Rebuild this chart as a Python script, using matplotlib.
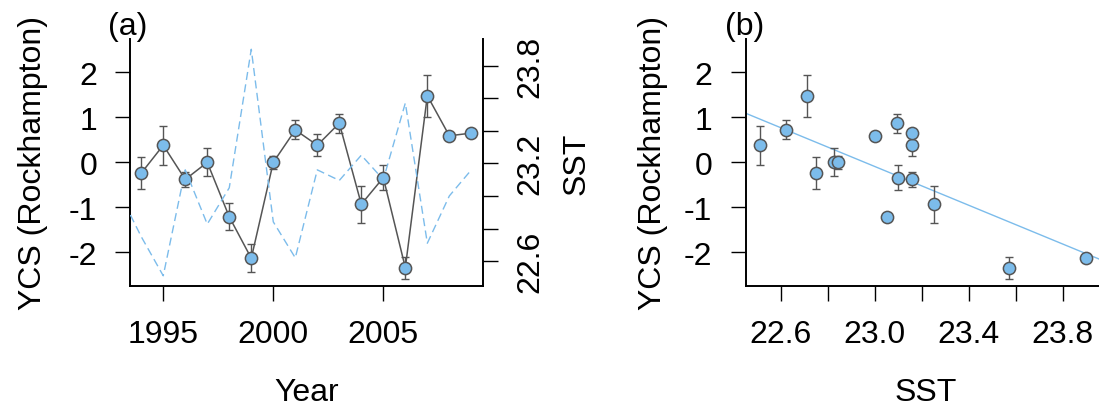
import numpy as np
import matplotlib
matplotlib.use('Agg')
import matplotlib.pyplot as plt

plt.rcParams['font.family'] = ['Liberation Sans', 'DejaVu Sans']
plt.rcParams['font.size'] = 23

# recruitment (YCS) with standard errors, one value per year
years = [1994, 1995, 1996, 1997, 1998, 1999, 2000, 2001,
         2002, 2003, 2004, 2005, 2006, 2007, 2008, 2009]
ycs = [-0.24, 0.38, -0.38, 0.00, -1.21, -2.13, 0.00, 0.72,
       0.38, 0.87, -0.93, -0.34, -2.34, 1.48, 0.59, 0.65]
ycs_se = [0.35, 0.43, 0.17, 0.31, 0.30, 0.31, 0.15, 0.21,
          0.24, 0.21, 0.41, 0.28, 0.24, 0.47, 0.07, 0.02]
# panel (b) shows no bars for 1998 and 1999
ycs_se_b = [0.35, 0.43, 0.17, 0.31, 0.0, 0.0, 0.15, 0.21,
            0.24, 0.21, 0.41, 0.28, 0.24, 0.47, 0.07, 0.02]

# sea surface temperature series
sst_years = [1993] + years
sst = [23.02, 22.75, 22.51, 23.16, 22.827, 23.05, 23.90, 22.841, 22.62,
       23.16, 23.095, 23.25, 23.10, 23.57, 22.71, 23.00, 23.16]

# fitted line YCS = a + b*SST
fit_a = 49.38
fit_b = -2.151

blue = '#7CBCEB'
grey = '#555555'

fig = plt.figure(figsize=(10.99, 4.06), dpi=100)

def style(ax):
    ax.tick_params(direction='out', length=11, width=1.0, pad=13)
    for s in ax.spines.values():
        s.set_linewidth(1.4)
    ax.spines['top'].set_visible(False)

# ---- panel (a): time series ----
ax1 = fig.add_axes([0.1187, 0.2938, 0.3208, 0.6077])
ax1.errorbar(years, ycs, yerr=ycs_se, fmt='none', ecolor=grey,
             elinewidth=1.0, capsize=3, capthick=1.0, zorder=2)
ax1.plot(years, ycs, '-o', color=grey, lw=1.1, ms=8.8,
         mfc=blue, mec=grey, mew=1.1, zorder=3)
ax1.set_xlim(1993.51, 2009.53)
ax1.set_ylim(-2.74, 2.74)
ax1.set_xticks([1995, 2000, 2005])
ax1.set_yticks([-2, -1, 0, 1, 2])
ax1.set_yticklabels(['-2', '-1', '0', '1', '2'])
style(ax1)
ax1.spines['right'].set_visible(False)
ax1.set_xlabel('Year', va='baseline')
ax1.xaxis.set_label_coords(0.5, -0.462)
ax1.set_ylabel('YCS (Rockhampton)', va='center')
ax1.yaxis.set_label_coords(-0.2766, 0.5)

ax2 = ax1.twinx()
ax2.plot(sst_years, sst, color=blue, lw=1.0, dashes=(5.8, 3.2))
ax2.set_ylim(22.449, 23.963)
sst_ticks = [22.6, 22.8, 23.0, 23.2, 23.4, 23.6, 23.8]
ax2.set_yticks(sst_ticks)
ax2.set_yticklabels(['22.6', '', '', '23.2', '', '', '23.8'],
                    rotation=90, va='center')
style(ax2)
ax2.spines['left'].set_visible(False)
ax2.spines['bottom'].set_visible(False)
ax2.tick_params(axis='y', pad=12.5)
ax2.set_ylabel('SST', va='center')
ax2.yaxis.set_label_coords(1.2658, 0.5)

fig.text(128 / 1099, 1 - 27 / 406, '(a)', ha='center', va='center')

# ---- panel (b): YCS against SST ----
ax3 = fig.add_axes([0.6785, 0.2938, 0.3284, 0.6077])
sst_b = sst[1:]
ax3.errorbar(sst_b, ycs, yerr=ycs_se_b, fmt='none', ecolor=grey,
             elinewidth=1.0, capsize=3, capthick=1.0, zorder=2)
ax3.plot(sst_b, ycs, 'o', ms=8.8, mfc=blue, mec=grey, mew=1.1, zorder=3)
ax3.set_xlim(22.4496, 23.987)
ax3.set_ylim(-2.74, 2.74)
xl = np.array(ax3.get_xlim())
ax3.plot(xl, fit_a + fit_b * xl, color=blue, lw=1.0, zorder=1)
ax3.set_xticks([22.6, 22.8, 23.0, 23.2, 23.4, 23.6, 23.8])
ax3.set_xticklabels(['22.6', '', '23.0', '', '23.4', '', '23.8'])
ax3.set_yticks([-2, -1, 0, 1, 2])
ax3.set_yticklabels(['-2', '-1', '0', '1', '2'])
style(ax3)
ax3.spines['right'].set_visible(False)
ax3.set_xlabel('SST', va='baseline')
ax3.xaxis.set_label_coords(0.5, -0.462)
ax3.set_ylabel('YCS (Rockhampton)', va='center')
ax3.yaxis.set_label_coords(-0.2569, 0.5)

fig.text(745 / 1099, 1 - 27 / 406, '(b)', ha='center', va='center')

fig.savefig('out.png', dpi=100)
